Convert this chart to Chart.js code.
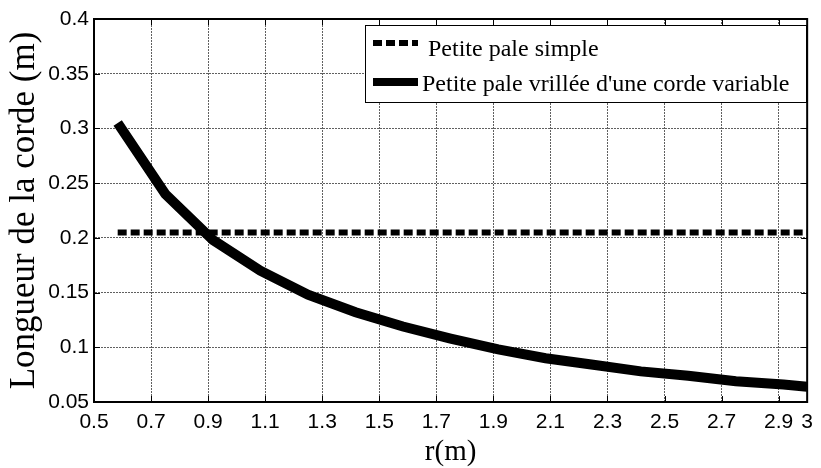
<!DOCTYPE html>
<html>
<head>
<meta charset="utf-8">
<script src="https://cdn.jsdelivr.net/npm/chart.js@4.4.1/dist/chart.umd.min.js"></script>
<style>
  html, body { margin: 0; padding: 0; background: #fff; }
  #wrap { width: 821px; height: 468px; position: relative; }
</style>
</head>
<body>
<div id="wrap"><canvas id="cordeChart"></canvas></div>
<script>
// rayon r (m) et longueur de corde (m)
var rayon = [0.583, 0.75, 0.917, 1.083, 1.25, 1.417, 1.583, 1.75, 1.917, 2.083, 2.25, 2.417, 2.583, 2.75, 2.917, 3.0];
var cordeVariable = [0.305, 0.240, 0.198, 0.170, 0.148, 0.132, 0.119, 0.108, 0.098, 0.090, 0.084, 0.078, 0.074, 0.069, 0.066, 0.064];

var rayonSimple = [0.583, 3.0];
var cordeSimple = [0.205, 0.205];

var xTicks = [0.5, 0.7, 0.9, 1.1, 1.3, 1.5, 1.7, 1.9, 2.1, 2.3, 2.5, 2.7, 2.9, 3];
var xTickLabels = ['0.5', '0.7', '0.9', '1.1', '1.3', '1.5', '1.7', '1.9', '2.1', '2.3', '2.5', '2.7', '2.9', '3'];
var yTicks = [0.05, 0.1, 0.15, 0.2, 0.25, 0.3, 0.35, 0.4];
var yTickLabels = ['0.05', '0.1', '0.15', '0.2', '0.25', '0.3', '0.35', '0.4'];

var labelSimple = 'Petite pale simple';
var labelVariable = "Petite pale vrillée d'une corde variable";

function toPoints(xs, ys){
  var pts = [];
  for(var i = 0; i < xs.length; i++) pts.push({ x: xs[i], y: ys[i] });
  return pts;
}

// cadre complet + petites graduations vers l'intérieur
var boxPlugin = {
  id: 'boxPlugin',
  afterDraw: function(chart){
    var ctx = chart.ctx, a = chart.chartArea;
    var xs = chart.scales.x, ys = chart.scales.y;
    ctx.save();
    ctx.strokeStyle = '#000';
    ctx.lineWidth = 1;
    ctx.beginPath();
    for(var i = 0; i < xTicks.length; i++){
      var px = Math.round(xs.getPixelForValue(xTicks[i])) + 0.5;
      ctx.moveTo(px, a.bottom); ctx.lineTo(px, a.bottom - 6);
      ctx.moveTo(px, a.top); ctx.lineTo(px, a.top + 6);
    }
    for(var j = 0; j < yTicks.length; j++){
      var py = Math.round(ys.getPixelForValue(yTicks[j])) + 0.5;
      ctx.moveTo(a.left, py); ctx.lineTo(a.left + 6, py);
      ctx.moveTo(a.right, py); ctx.lineTo(a.right - 6, py);
    }
    ctx.stroke();
    ctx.lineWidth = 2;
    ctx.strokeRect(a.left, a.top, a.right - a.left, a.bottom - a.top);
    ctx.restore();
  }
};

// légende encadrée en haut à droite, comme dans la figure
var legendBox = {
  id: 'legendBox',
  afterDraw: function(chart){
    var ctx = chart.ctx;
    var ds = chart.data.datasets;
    var bx = 365, by = 25, bw = 441, bh = 77;
    ctx.save();
    ctx.fillStyle = '#fff';
    ctx.fillRect(bx, by, bw, bh);
    ctx.strokeStyle = '#000';
    ctx.lineWidth = 1;
    ctx.strokeRect(bx + 0.5, by + 0.5, bw, bh);

    ctx.font = '24px "Liberation Serif", "Times New Roman", serif';
    ctx.fillStyle = '#000';
    ctx.textBaseline = 'alphabetic';

    // entrée 1 : pointillés
    ctx.lineWidth = 6;
    ctx.strokeStyle = ds[0].borderColor;
    ctx.setLineDash(ds[0].borderDash);
    ctx.beginPath(); ctx.moveTo(373, 43); ctx.lineTo(418, 43); ctx.stroke();
    ctx.setLineDash([]);
    ctx.fillText(ds[0].label, 428, 56);

    // entrée 2 : trait plein épais
    ctx.lineWidth = 8;
    ctx.strokeStyle = ds[1].borderColor;
    ctx.beginPath(); ctx.moveTo(373, 82); ctx.lineTo(418, 82); ctx.stroke();
    ctx.fillText(ds[1].label, 422, 91);
    ctx.restore();
  }
};

var tickFont = { family: '"Liberation Sans", Arial, sans-serif', size: 21 };

var ctx = document.getElementById('cordeChart').getContext('2d');
new Chart(ctx, {
  type: 'line',
  data: {
    datasets: [
      {
        label: labelSimple,
        data: toPoints(rayonSimple, cordeSimple),
        borderColor: '#000', borderWidth: 6, borderDash: [9, 4],
        pointRadius: 0, tension: 0, fill: false
      },
      {
        label: labelVariable,
        data: toPoints(rayon, cordeVariable),
        borderColor: '#000', borderWidth: 10, borderCapStyle: 'butt', borderJoinStyle: 'miter',
        pointRadius: 0, tension: 0, fill: false
      }
    ]
  },
  options: {
    responsive: true, maintainAspectRatio: false, animation: false,
    layout: { padding: { top: 19, right: 11, left: 0, bottom: 0 } },
    plugins: { legend: { display: false }, tooltip: { enabled: false } },
    scales: {
      x: {
        type: 'linear', min: 0.5, max: 3,
        afterBuildTicks: function(s){ s.ticks = xTicks.map(function(v){ return { value: v } }) },
        afterFit: function(s){ s.height = 66 },
        ticks: {
          autoSkip: false, maxRotation: 0, padding: 8, color: '#000', font: tickFont,
          callback: function(v, i){ return xTickLabels[i] }
        },
        grid: { color: '#606060', lineWidth: 1, drawTicks: false },
        border: { display: true, color: '#000', width: 2, dash: [2, 1] },
        title: {
          display: true, text: 'r(m)', color: '#000', padding: 0,
          font: { family: '"Liberation Serif", "Times New Roman", serif', size: 29, lineHeight: 1.1 }
        }
      },
      y: {
        type: 'linear', min: 0.05, max: 0.4,
        afterBuildTicks: function(s){ s.ticks = yTicks.map(function(v){ return { value: v } }) },
        afterFit: function(s){ s.width = 94 },
        ticks: {
          autoSkip: false, padding: 5, color: '#000', font: tickFont,
          callback: function(v, i){ return yTickLabels[i] }
        },
        grid: { color: '#606060', lineWidth: 1, drawTicks: false },
        border: { display: true, color: '#000', width: 2, dash: [2, 1] },
        title: {
          display: true, text: 'Longueur de la corde (m)', color: '#000', padding: { top: 4, bottom: 0 },
          font: { family: '"Liberation Serif", "Times New Roman", serif', size: 35, lineHeight: 1.2 }
        }
      }
    }
  },
  plugins: [boxPlugin, legendBox]
});
</script>
</body>
</html>
